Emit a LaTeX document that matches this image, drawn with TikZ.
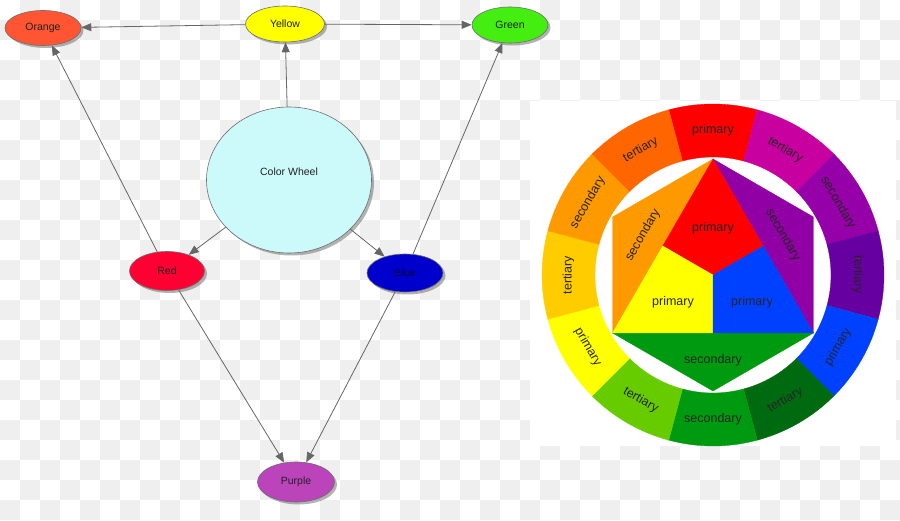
\documentclass[tikz,border=0pt]{standalone}
\usepackage{fontspec}
\setmainfont{Liberation Sans}
\usetikzlibrary{shapes.geometric,arrows.meta,shadows,calc}
\definecolor{checker}{HTML}{EFEFEF}
\definecolor{bordergray}{HTML}{6E6E6E}
\definecolor{edgegray}{HTML}{666666}
\definecolor{txt}{HTML}{222222}
\definecolor{cOrange}{HTML}{FF5533}
\definecolor{cYellow}{HTML}{FFFF00}
\definecolor{cGreen}{HTML}{44EE11}
\definecolor{cWheel}{HTML}{CCFAFA}
\definecolor{cRed}{HTML}{FF0033}
\definecolor{cBlue}{HTML}{0000CC}
\definecolor{cPurple}{HTML}{BB44BB}
\definecolor{wR}{HTML}{FF0000}
\definecolor{wRO}{HTML}{FF6600}
\definecolor{wO}{HTML}{FF9900}
\definecolor{wYO}{HTML}{FFCC00}
\definecolor{wY}{HTML}{FFFF00}
\definecolor{wYG}{HTML}{66CC00}
\definecolor{wG}{HTML}{009A10}
\definecolor{wDG}{HTML}{006A10}
\definecolor{wB}{HTML}{0040FF}
\definecolor{wV}{HTML}{6600A0}
\definecolor{wP}{HTML}{9600A8}
\definecolor{wM}{HTML}{C800A0}
\definecolor{iP}{HTML}{9100A5}
\begin{document}
\begin{tikzpicture}[x=1pt,y=1pt,
  bub/.style={ellipse, draw=bordergray, line width=0.6pt, inner sep=0pt,
    font=\fontsize{10.5}{12}\selectfont, text=txt,
    drop shadow={shadow xshift=2.5pt, shadow yshift=-2.5pt, fill=black!55, opacity=0.55}},
  edge/.style={draw=edgegray, line width=0.8pt, -{Triangle[length=10pt,width=8pt]}},
  wlabel/.style={font=\fontsize{12.5}{14}\selectfont, text=black!85, inner sep=0pt}]
\useasboundingbox (0,0) rectangle (900,520);
% transparency checkerboard
\foreach \j in {0,...,25}{
  \foreach \i in {0,2,...,44}{
    \fill[checker] ({(\i+1-mod(\j,2))*20},{520-\j*20}) rectangle ++(20,-20);
  }
}
% ---------- left concept diagram ----------
\node[bub, fill=cOrange, minimum width=76pt, minimum height=35pt] (orange) at (43,492) {Orange};
\node[bub, fill=cYellow, minimum width=79pt, minimum height=36pt] (yellow) at (285,496) {Yellow};
\node[bub, fill=cGreen, minimum width=76pt, minimum height=36pt] (green) at (510,495) {Green};
\node[bub, fill=cWheel, minimum width=165pt, minimum height=146pt] (wheel) at (289,340) {};
\node[font=\fontsize{10.5}{12}\selectfont, text=txt] (wheeltext) at ([yshift=8pt]wheel.center) {Color Wheel};
\node[bub, fill=cRed, minimum width=75pt, minimum height=39pt] (red) at (167,249) {Red};
\node[bub, fill=cBlue, minimum width=76pt, minimum height=38pt, text={rgb,255:red,0;green,0;blue,60}] (blue) at (405,247) {Blue};
\node[bub, fill=cPurple, minimum width=77pt, minimum height=40pt] (purple) at (296,38) {Purple};
\draw[edge] (yellow) -- (orange);
\draw[edge] (yellow) -- (green);
\draw[edge] (wheel) -- (yellow);
\draw[edge] (wheel) -- (red);
\draw[edge] (wheel) -- (blue);
\draw[edge] (red) -- (orange);
\draw[edge] (blue) -- (green);
\draw[edge] (red) -- (purple);
\draw[edge] (blue) -- (purple);
% ---------- colour wheel ----------
\fill[white] (530,74) rectangle (896,419);
\begin{scope}[shift={(713,245)}]
  \foreach \a/\c/\t/\r [count=\k] in {90/wR/primary/0, 60/wM/tertiary/-30, 30/wP/secondary/-60,
      0/wV/tertiary/-90, -30/wB/primary/60, -60/wDG/tertiary/30, -90/wG/secondary/0,
      -120/wYG/tertiary/-30, -150/wY/primary/-60, 180/wYO/tertiary/90,
      150/wO/secondary/60, 120/wRO/tertiary/30}{
    \filldraw[fill=\c, draw=\c, line width=0.3pt] ({\a-15}:171) arc[start angle=\a-15, end angle=\a+15, radius=171]
      -- ({\a+15}:118) arc[start angle=\a+15, end angle=\a-15, radius=118] -- cycle;
    \node[wlabel, rotate=\r] (seg\k) at (\a:144.5) {\t};
  }
  % inner hexagon
  \coordinate (T) at (90:116);
  \coordinate (BL) at (210:116);
  \coordinate (BR) at (330:116);
  \coordinate (HL) at (150:116);
  \coordinate (HR) at (30:116);
  \coordinate (HB) at (270:116);
  \coordinate (O) at (0,0);
  \coordinate (ML) at ($(T)!0.5!(BL)$);
  \coordinate (MR) at ($(T)!0.5!(BR)$);
  \coordinate (MB) at ($(BL)!0.5!(BR)$);
  \filldraw[fill=wO, draw=wO, line width=0.3pt] (T) -- (HL) -- (BL) -- cycle;
  \filldraw[fill=iP, draw=iP, line width=0.3pt] (T) -- (HR) -- (BR) -- cycle;
  \filldraw[fill=wG, draw=wG, line width=0.3pt] (BL) -- (HB) -- (BR) -- cycle;
  \filldraw[fill=wR, draw=wR, line width=0.3pt] (T) -- (ML) -- (O) -- (MR) -- cycle;
  \filldraw[fill=wY, draw=wY, line width=0.3pt] (BL) -- (MB) -- (O) -- (ML) -- cycle;
  \filldraw[fill=wB, draw=wB, line width=0.3pt] (BR) -- (MR) -- (O) -- (MB) -- cycle;
  \node[wlabel] (inR) at (0,47) {primary};
  \node[wlabel, rotate=60] (inO) at (-70,40) {secondary};
  \node[wlabel, rotate=-60] (inP) at (70,40) {secondary};
  \node[wlabel] (inY) at (-40,-27) {primary};
  \node[wlabel] (inB) at (39,-27) {primary};
  \node[wlabel] (inG) at (0,-85) {secondary};
\end{scope}
\end{tikzpicture}
\end{document}
